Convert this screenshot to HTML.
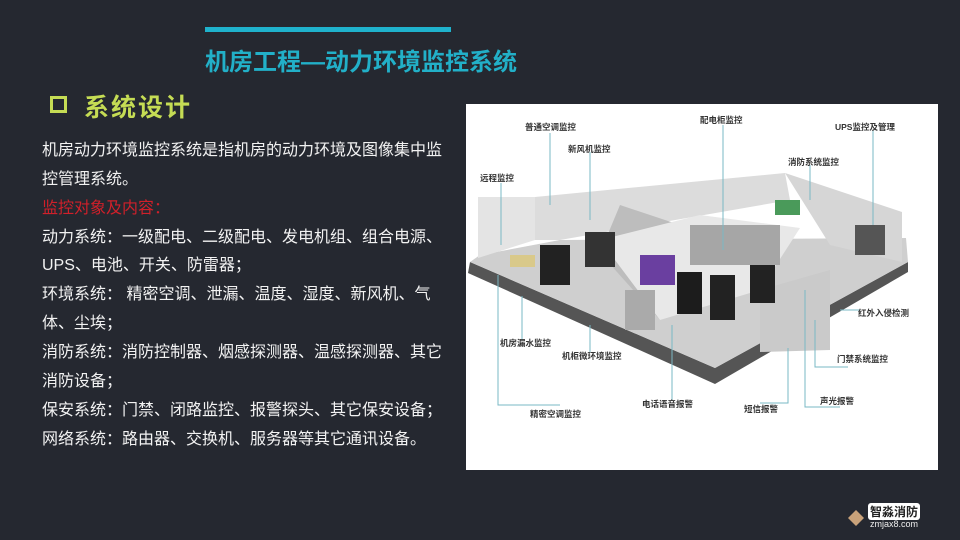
<!DOCTYPE html>
<html><head><meta charset="utf-8"><style>
body{margin:0;width:960px;height:540px;background:#252830;overflow:hidden;position:relative;font-family:"Liberation Sans","Noto Sans CJK SC",sans-serif}
.t{position:absolute;white-space:nowrap}
.p{position:absolute;left:42px;color:#f2f2f2;font-size:16px;letter-spacing:0px;white-space:nowrap}
</style></head><body>
<div style="position:absolute;left:205px;top:27px;width:246px;height:5px;background:#1fb2cc"></div>
<div class="t" style="left:205px;top:42px;color:#22b0c8;font-size:24px;font-weight:bold">机房工程—动力环境监控系统</div>
<div style="position:absolute;left:50px;top:96px;width:11px;height:11px;border:3.5px solid #c5dc54"></div>
<div class="t" style="left:84px;top:88px;color:#c5dc54;font-size:25px;font-weight:bold;letter-spacing:2px">系统设计</div>
<div class="p" style="top:136px">机房动力环境监控系统是指机房的动力环境及图像集中监</div>
<div class="p" style="top:165px">控管理系统。</div>
<div class="p" style="top:194px;color:#d0202a">监控对象及内容：</div>
<div class="p" style="top:223px">动力系统：一级配电、二级配电、发电机组、组合电源、</div>
<div class="p" style="top:251px">UPS、电池、开关、防雷器；</div>
<div class="p" style="top:280px">环境系统：&nbsp;精密空调、泄漏、温度、湿度、新风机、气</div>
<div class="p" style="top:309px">体、尘埃；</div>
<div class="p" style="top:338px">消防系统：消防控制器、烟感探测器、温感探测器、其它</div>
<div class="p" style="top:367px">消防设备；</div>
<div class="p" style="top:396px">保安系统：门禁、闭路监控、报警探头、其它保安设备；</div>
<div class="p" style="top:425px">网络系统：路由器、交换机、服务器等其它通讯设备。</div>

<svg style="position:absolute;left:0;top:0" width="960" height="540">
<rect x="466" y="104" width="472" height="366" fill="#fff"/>
<polygon points="468,273 715,384 908,272 908,262 715,368 470,262" fill="#555"/>
<polygon points="470,262 480,255 560,240 906,238 908,262 715,368" fill="#cfcfcf"/>
<polygon points="478,197 535,197 535,240 478,258" fill="#e4e4e4"/>
<polygon points="535,197 785,173 790,200 560,240 535,240" fill="#dcdcdc"/>
<polygon points="785,173 902,212 902,262 830,245" fill="#d6d6d6"/>
<polygon points="600,253 620,205 680,225 660,320" fill="#bdbdbd"/>
<polygon points="760,290 830,270 830,350 760,352" fill="#cacaca"/>
<polygon points="600,240 700,215 800,228 760,290 660,320" fill="#e8e8e8"/>
<rect x="540" y="245" width="30" height="40" fill="#222"/>
<rect x="585" y="232" width="30" height="35" fill="#333"/>
<rect x="640" y="255" width="35" height="30" fill="#6a3fa0"/>
<rect x="677" y="272" width="25" height="42" fill="#1c1c1c"/>
<rect x="710" y="275" width="25" height="45" fill="#222"/>
<rect x="750" y="265" width="25" height="38" fill="#222"/>
<rect x="625" y="290" width="30" height="40" fill="#aaa"/>
<rect x="690" y="225" width="90" height="40" fill="#a6a6a6"/>
<rect x="775" y="200" width="25" height="15" fill="#4a9a5a"/>
<rect x="855" y="225" width="30" height="30" fill="#555"/>
<rect x="510" y="255" width="25" height="12" fill="#d9c98a"/>
<g stroke="#7ab8c4" stroke-width="1" fill="none">
<path d="M550,133V205"/><path d="M590,152V220"/><path d="M501,183V245"/>
<path d="M723,125V250"/><path d="M810,165V200"/><path d="M873,130V225"/>
<path d="M498,275V405H560"/><path d="M522,296V340"/><path d="M590,325V352"/>
<path d="M672,325V400"/><path d="M788,348V403H760"/><path d="M805,290V407H840"/>
<path d="M815,320V367H848"/><path d="M840,310H860"/>
</g>
<g font-size="8.5" fill="#333" font-weight="bold" font-family="'Liberation Sans','Noto Sans CJK SC',sans-serif">
<text x="525" y="130">普通空调监控</text><text x="568" y="152">新风机监控</text>
<text x="480" y="181">远程监控</text><text x="700" y="123">配电柜监控</text>
<text x="835" y="130">UPS监控及管理</text><text x="788" y="165">消防系统监控</text>
<text x="858" y="316">红外入侵检测</text><text x="837" y="362">门禁系统监控</text>
<text x="820" y="404">声光报警</text><text x="744" y="412">短信报警</text>
<text x="642" y="407">电话语音报警</text><text x="530" y="417">精密空调监控</text>
<text x="500" y="346">机房漏水监控</text><text x="562" y="359">机柜微环境监控</text>
</g>
<polygon points="848,518 856,510 864,518 856,526" fill="#c9a27a"/>
</svg>
<div class="t" style="left:868px;top:503px;background:#fff;color:#222;font-size:12px;font-weight:bold;padding:0 2px;border-radius:3px">智淼消防</div>
<div class="t" style="left:870px;top:519px;color:#eee;font-size:9px">zmjax8.com</div>
</body></html>
